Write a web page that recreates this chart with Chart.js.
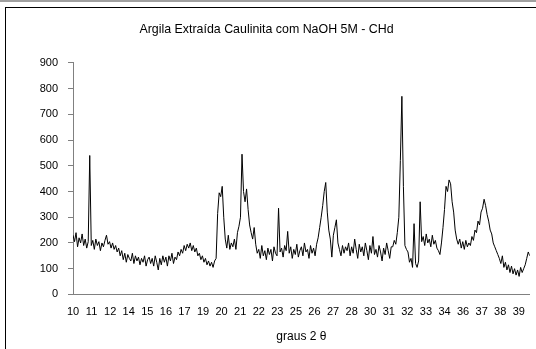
<!DOCTYPE html>
<html>
<head>
<meta charset="utf-8">
<script src="https://cdn.jsdelivr.net/npm/chart.js@4/dist/chart.umd.min.js"></script>
<style>
  html, body { margin: 0; padding: 0; background: #fff; }
  #wrap { position: relative; width: 536px; height: 349px; overflow: hidden; }
  #chart { position: absolute; left: 0; top: 0; }
  #topLine { position: absolute; left: 0; top: 0; width: 536px; height: 2px; background: #a0a0a0; }
  #frame { position: absolute; left: 5px; top: 7px; width: 540px; height: 350px;
           border-left: 1px solid #000; border-top: 1px solid #000; pointer-events: none; }
</style>
</head>
<body>
<div id="wrap">
  <canvas id="chart" width="536" height="349"></canvas>
  <div id="topLine"></div>
  <div id="frame"></div>
</div>
<script>
// 2θ de 10 a 40 graus, passo 0.1
const startAngle = 10;
const stepAngle = 0.1;

// intensidade (10 pontos por grau)
const intensity = [
  230, 205, 240, 185, 220, 200, 235, 190, 215, 180,   // 10
  205, 540, 190, 210, 175, 215, 190, 205, 170, 200,   // 11
  185, 210, 230, 195, 205, 180, 200, 175, 190, 165,   // 12
  180, 150, 170, 135, 160, 125, 155, 140, 130, 160,   // 13
  120, 150, 130, 145, 115, 140, 125, 150, 110, 135,   // 14
  145, 120, 140, 110, 150, 125, 95, 140, 115, 150,    // 15
  125, 145, 110, 150, 130, 160, 120, 145, 135, 165,   // 16
  150, 175, 160, 190, 170, 195, 180, 200, 170, 190,   // 17
  165, 180, 150, 160, 135, 150, 125, 140, 115, 130,   // 18
  110, 125, 105, 130, 140, 315, 395, 380, 420, 300,   // 19
  215, 180, 230, 175, 200, 185, 215, 175, 240, 265,   // 20
  300, 545, 400, 360, 410, 330, 270, 240, 215, 260,   // 21
  195, 160, 175, 140, 190, 150, 170, 135, 180, 155,   // 22
  175, 130, 185, 160, 150, 335, 165, 180, 145, 190,   // 23
  170, 245, 160, 185, 140, 175, 155, 195, 145, 170,   // 24
  185, 150, 200, 165, 175, 140, 190, 160, 180, 150,   // 25
  195, 220, 260, 300, 345, 400, 435, 320, 250, 215,   // 26
  145, 230, 260, 290, 200, 175, 150, 190, 160, 185,   // 27
  170, 200, 150, 185, 160, 215, 175, 140, 195, 165,   // 28
  185, 150, 200, 170, 135, 190, 160, 225, 155, 175,   // 29
  145, 190, 165, 130, 180, 155, 200, 170, 140, 185,   // 30
  185, 210, 195, 240, 300, 520, 770, 420, 190, 175,   // 31
  165, 125, 140, 105, 275, 120, 105, 130, 360, 205,   // 32
  225, 190, 235, 200, 215, 185, 230, 195, 210, 180,   // 33
  170, 155, 200, 260, 330, 420, 400, 445, 430, 360,   // 34
  320, 250, 215, 195, 215, 180, 205, 175, 210, 185,   // 35
  200, 190, 225, 210, 250, 240, 285, 270, 320, 335,   // 36
  370, 345, 310, 285, 250, 235, 200, 185, 170, 155,   // 37
  140, 120, 150, 105, 125, 95, 115, 85, 110, 80,      // 38
  100, 75, 95, 70, 105, 85, 100, 115, 140, 165,       // 39
  150                                                 // 40
];

// rótulos do eixo x (como o Excel mostra, um a cada 1.22 grau)
const xTickLabels = [10, 11, 12, 14, 15, 16, 17, 19, 20, 21, 22, 23, 25,
                     26, 27, 28, 30, 31, 32, 33, 34, 36, 37, 38, 39];
const xTickStep = 1.22;

const chartTitle = "Argila Extraída Caulinita com NaOH 5M - CHd";
const xTitle = "graus 2 θ";

const points = intensity.map((v, i) => ({ x: startAngle + i * stepAngle, y: v }));

const font = "'Liberation Sans', Arial, sans-serif";

new Chart(document.getElementById("chart"), {
  type: "line",
  data: {
    datasets: [{
      data: points,
      borderColor: "#000",
      borderWidth: 1,
      pointRadius: 0,
      tension: 0,
      fill: false
    }]
  },
  options: {
    responsive: false,
    animation: false,
    devicePixelRatio: 1,
    layout: { padding: { left: 0, right: 3, top: 0, bottom: 5 } },
    plugins: {
      legend: { display: false },
      tooltip: { enabled: false },
      title: {
        display: true,
        text: chartTitle,
        color: "#000",
        font: { family: font, size: 12.4, weight: "normal" },
        padding: { top: 22, bottom: 26 }
      }
    },
    scales: {
      x: {
        type: "linear",
        min: startAngle,
        max: 40,
        afterBuildTicks: scale => {
          scale.ticks = xTickLabels.map((t, i) => ({ value: startAngle + i * xTickStep }));
        },
        grid: { display: false, drawTicks: false },
        border: { display: true, color: "#808080", width: 1 },
        ticks: {
          autoSkip: false,
          maxRotation: 0,
          padding: 11,
          color: "#000",
          font: { family: font, size: 11 },
          callback: (v, i) => xTickLabels[i]
        },
        title: {
          display: true,
          text: xTitle,
          color: "#000",
          font: { family: font, size: 12 },
          padding: { top: 0, bottom: 0 }
        }
      },
      y: {
        min: 0,
        max: 900,
        afterFit: scale => { scale.width = 73; },
        grid: { drawOnChartArea: false, tickLength: 5, color: "#808080" },
        border: { display: true, color: "#808080", width: 1 },
        ticks: {
          stepSize: 100,
          padding: 10,
          color: "#000",
          font: { family: font, size: 11 }
        }
      }
    }
  }
});
</script>
</body>
</html>
